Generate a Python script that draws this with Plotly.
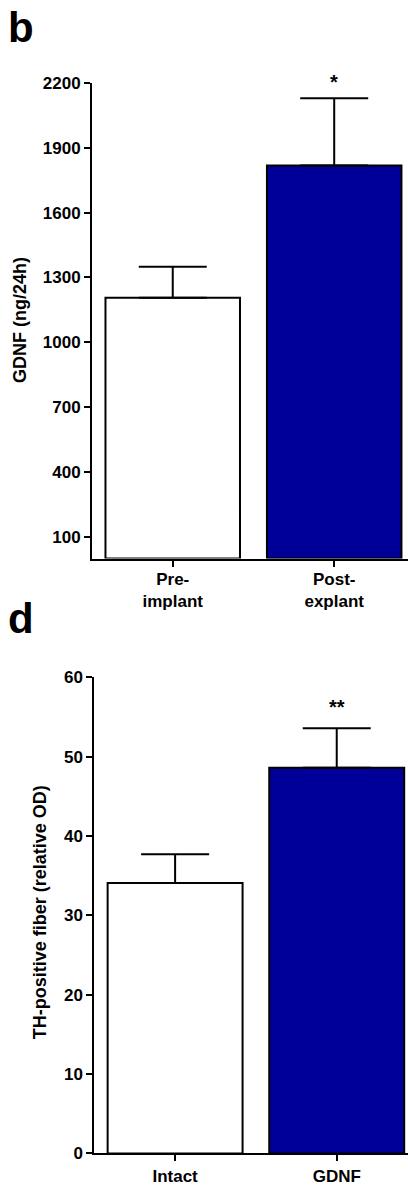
import plotly.graph_objects as go

W, H = 408, 1188

# Panel b data
b_categories = ["Pre-<br>implant", "Post-<br>explant"]
b_means = [1206, 1818]
b_sems = [143, 311]
b_sig = ["", "*"]
b_ticks = [100, 400, 700, 1000, 1300, 1600, 1900, 2200]

# Panel d data
d_categories = ["Intact", "GDNF"]
d_means = [34.1, 48.6]
d_sems = [3.6, 5.0]
d_sig = ["", "**"]
d_ticks = [0, 10, 20, 30, 40, 50, 60]

bar_colors = ["white", "#000099"]
FONT = "Liberation Sans, Arial, sans-serif"

def px_x(p):
    return p / W

def px_y(p):
    return 1 - p / H

fig = go.Figure()

fig.add_trace(go.Bar(
    x=b_categories, y=b_means, width=0.833,
    marker=dict(color=bar_colors, line=dict(color="black", width=2)),
    error_y=dict(type="data", array=b_sems, arrayminus=[0, 0], symmetric=False,
                 color="black", thickness=2, width=34),
    xaxis="x", yaxis="y", showlegend=False,
))
fig.add_trace(go.Bar(
    x=d_categories, y=d_means, width=0.835,
    marker=dict(color=bar_colors, line=dict(color="black", width=2)),
    error_y=dict(type="data", array=d_sems, arrayminus=[0, 0], symmetric=False,
                 color="black", thickness=2, width=34),
    xaxis="x2", yaxis="y2", showlegend=False,
))

axis_common = dict(
    showgrid=False, zeroline=False, showline=True, linecolor="black", linewidth=2,
    ticks="outside", ticklen=6, tickwidth=2, tickcolor="black",
    tickfont=dict(family=FONT, size=17, color="black", weight="bold"),
)

fig.update_layout(
    width=W, height=H,
    margin=dict(l=0, r=0, t=0, b=0),
    paper_bgcolor="white", plot_bgcolor="white",
    xaxis=dict(domain=[px_x(92), 1], range=[-0.5, 1.457], anchor="y",
               ticklabelstandoff=-2, **axis_common),
    yaxis=dict(domain=[px_y(558.5), px_y(75)], range=[0, 2200], tickvals=b_ticks,
               anchor="x", **axis_common),
    xaxis2=dict(domain=[px_x(94.3), 1], range=[-0.5, 1.441], anchor="y2", **axis_common),
    yaxis2=dict(domain=[px_y(1163), px_y(679.3)], range=[0, 60], tickvals=d_ticks,
                anchor="x2", **axis_common),
    bargap=0,
)

annotations = []
# Panel letters
annotations.append(dict(text="<b>b</b>", x=px_x(6), y=px_y(19), xref="paper", yref="paper",
                        xanchor="left", yanchor="middle", showarrow=False,
                        font=dict(family=FONT, size=42, color="black")))
annotations.append(dict(text="<b>d</b>", x=px_x(6), y=px_y(619), xref="paper", yref="paper",
                        xanchor="left", yanchor="middle", showarrow=False,
                        font=dict(family=FONT, size=42, color="black")))
# Y titles
annotations.append(dict(text="<b>GDNF (ng/24h)</b>", x=px_x(20), y=px_y(316), xref="paper",
                        yref="paper", textangle=-90, showarrow=False,
                        xanchor="center", yanchor="middle",
                        font=dict(family=FONT, size=18, color="black")))
annotations.append(dict(text="<b>TH-positive fiber (relative OD)</b>", x=px_x(40), y=px_y(918),
                        xref="paper", yref="paper", textangle=-90, showarrow=False,
                        xanchor="center", yanchor="middle",
                        font=dict(family=FONT, size=18, color="black")))
# Significance markers
for cat, m, s, t in zip(b_categories, b_means, b_sems, b_sig):
    if t:
        annotations.append(dict(text="<b>" + t + "</b>", x=cat, y=m + s, xref="x", yref="y",
                                showarrow=False, yanchor="bottom", yshift=3,
                                font=dict(family=FONT, size=20, color="black")))
for cat, m, s, t in zip(d_categories, d_means, d_sems, d_sig):
    if t:
        annotations.append(dict(text="<b>" + t + "</b>", x=cat, y=m + s, xref="x2", yref="y2",
                                showarrow=False, yanchor="bottom", yshift=8,
                                font=dict(family=FONT, size=20, color="black")))

fig.update_layout(annotations=annotations)

fig.write_html(
    "out.html",
    config={"displayModeBar": False, "staticPlot": True},
    post_script="document.body.style.margin='0';document.body.style.overflow='hidden';",
)
